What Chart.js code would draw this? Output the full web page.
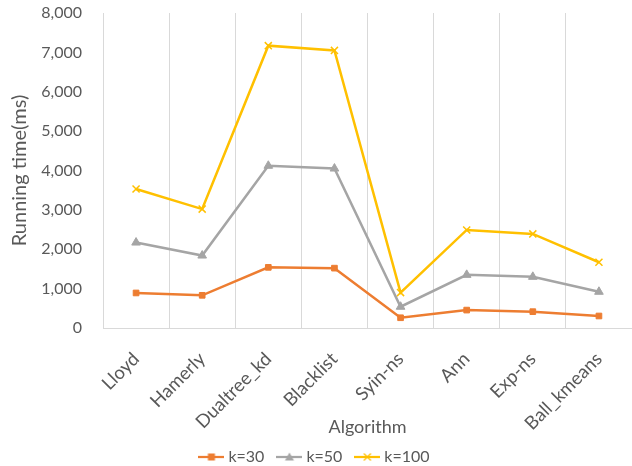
<!DOCTYPE html>
<html>
<head>
<meta charset="utf-8">
<script src="https://cdn.jsdelivr.net/npm/chart.js@4/dist/chart.umd.min.js"></script>
<style>
html,body{margin:0;padding:0;background:#fff;}
#wrap{width:632px;height:466px;position:relative;}
</style>
</head>
<body>
<div id="wrap"><canvas id="c" width="632" height="466"></canvas></div>
<script>
const categories = ["Lloyd","Hamerly","Dualtree_kd","Blacklist","Syin-ns","Ann","Exp-ns","Ball_kmeans"];
const k30 = [890, 830, 1540, 1520, 260, 455, 415, 305];
const k50 = [2170, 1840, 4120, 4050, 540, 1350, 1300, 920];
const k100 = [3530, 3020, 7170, 7050, 900, 2490, 2390, 1670];
const seriesNames = ["k=30","k=50","k=100"];

const FONT = "Lato, 'Open Sans', sans-serif";
const TXT = "#595959";
const colors = ["#ED7D31","#A5A5A5","#FFC000"];
const styles = ["rect","triangle","crossRot"];

function legendIcon(color, style){
  const cv = document.createElement('canvas');
  cv.width = 26; cv.height = 12;
  const g = cv.getContext('2d');
  g.strokeStyle = color; g.fillStyle = color; g.lineWidth = 2.25;
  g.beginPath(); g.moveTo(0,6); g.lineTo(26,6); g.stroke();
  if(style==='rect'){ g.fillRect(9.5,2.5,7,7); }
  else if(style==='triangle'){ g.beginPath(); g.moveTo(13,1.5); g.lineTo(17.5,9.5); g.lineTo(8.5,9.5); g.closePath(); g.fill(); }
  else { g.lineWidth=1.3; g.beginPath(); g.moveTo(9.5,2.5); g.lineTo(16.5,9.5); g.moveTo(16.5,2.5); g.lineTo(9.5,9.5); g.stroke(); }
  return cv;
}

const data = [k30,k50,k100];
const datasets = data.map((d,i)=>({
  label: seriesNames[i],
  data: d,
  borderColor: colors[i],
  backgroundColor: colors[i],
  borderWidth: 2.5,
  pointStyle: styles[i],
  pointRadius: i===0?4:5,
  pointBorderWidth: i===2?1.5:1,
  tension: 0
}));

new Chart(document.getElementById('c'), {
  type: 'line',
  data: { labels: categories, datasets },
  options: {
    responsive: false,
    animation: false,
    layout: { autoPadding: false, padding: { left: 0, right: 0, top: 13, bottom: -9 } },
    plugins: {
      legend: {
        position: 'bottom',
        labels: {
          usePointStyle: true,
          pointStyleWidth: 18,
          color: TXT,
          font: { family: FONT, size: 16 },
          padding: 16,
          generateLabels(chart){
            return chart.data.datasets.map((ds,i)=>({
              text: ds.label,
              pointStyle: legendIcon(colors[i], styles[i]),
              fillStyle: colors[i], strokeStyle: colors[i],
              fontColor: TXT,
              lineWidth: 0, hidden: false, datasetIndex: i
            }));
          }
        }
      },
      tooltip: { enabled: false }
    },
    scales: {
      x: {
        offset: true,
        grid: { offset: true, color: "#D9D9D9", drawTicks: false },
        border: { color: "#D9D9D9" },
        ticks: { color: TXT, font: { family: FONT, size: 18.5 }, maxRotation: 45, minRotation: 45, padding: 20 },
        title: { display: true, text: "Algorithm", color: TXT, font: { family: FONT, size: 18 }, padding: { top: 0, bottom: -5 } },
        afterFit(s){ s.height = 105; s.paddingLeft = 0; s.paddingRight = 0; }
      },
      y: {
        min: 0, max: 8000,
        ticks: { stepSize: 1000, color: TXT, font: { family: FONT, size: 16 }, padding: 21 },
        grid: { display: false, drawTicks: false },
        border: { display: false },
        title: { display: true, text: "Running time(ms)", color: TXT, font: { family: FONT, size: 20 }, padding: { top: 8, bottom: 0 } },
        afterFit(s){ s.width = 103; s.paddingTop = 0; s.paddingBottom = 0; }
      }
    }
  }
});
</script>
</body>
</html>
